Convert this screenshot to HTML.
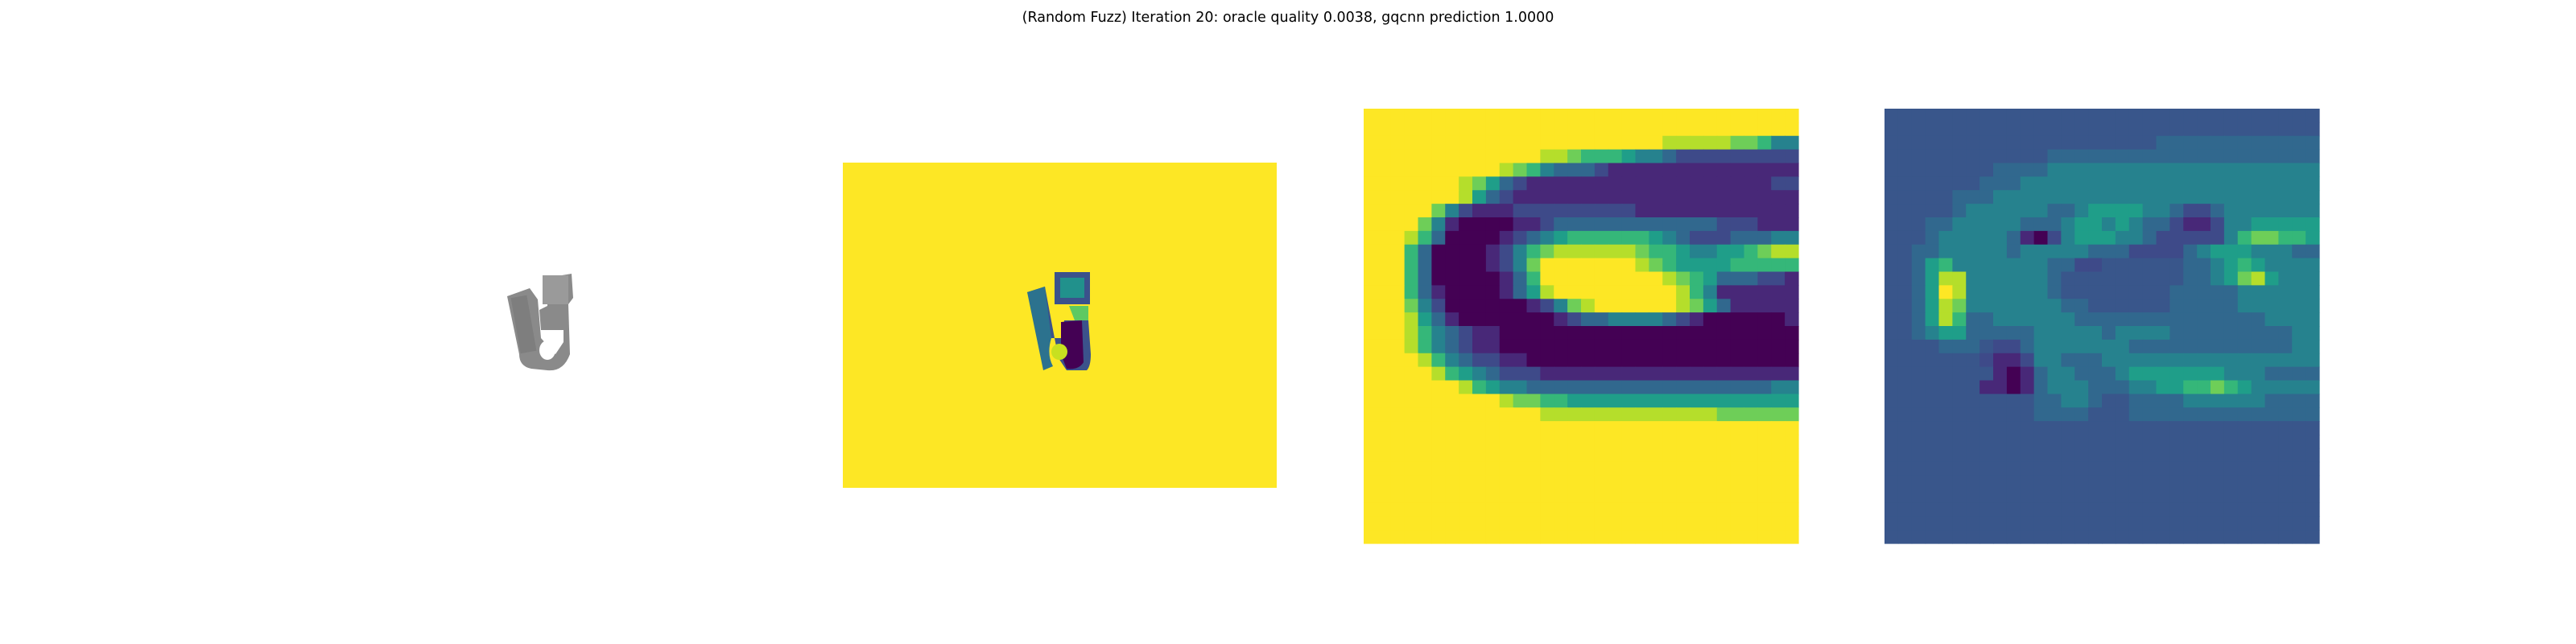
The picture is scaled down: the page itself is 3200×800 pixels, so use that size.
<!DOCTYPE html>
<html><head><meta charset="utf-8"><style>
html,body{margin:0;padding:0;background:#fff;width:3200px;height:800px;overflow:hidden}
#title{position:absolute;left:0;width:3200px;top:12px;text-align:center;font:17.5px "DejaVu Sans","Liberation Sans",sans-serif;color:#000}
svg{position:absolute;left:0;top:0}
</style></head><body>
<div id="title">(Random Fuzz) Iteration 20: oracle quality 0.0038, gqcnn prediction 1.0000</div>
<svg id="fig" width="3200" height="800">
 <g>
  <path d="M630,368 L658,358 L668,372 L672,420 L690,440 L700,425 L700,410 L672,410 L670,385 L680,380 L680,345 L710,340 L712,370 L706,378 L708,440 Q700,462 680,460 L660,458 Q645,455 645,440 Z" fill="#8a8a8a"/>
  <rect x="674" y="342" width="32" height="36" fill="#9a9a9a"/>
  <rect x="640" y="368" width="20" height="70" fill="#7e7e7e" transform="rotate(-10 650 400)"/>
  <ellipse cx="680" cy="435" rx="10" ry="12" fill="#fff"/>
 </g>
 <g>
  <rect x="1047" y="202" width="539" height="404" fill="#fde725"/>
  <path d="M1276,363 L1298,356 L1310,420 L1315,445 L1325,460 L1350,460 Q1355,455 1355,440 L1352,398 L1322,398 L1320,420 L1300,420 Z" fill="#3b528b"/>
  <path d="M1276,363 L1298,356 L1306,420 Q1300,440 1308,455 L1296,460 Z" fill="#2c728e"/>
  <path d="M1318,400 L1344,398 L1346,450 Q1340,460 1325,458 L1318,440 Z" fill="#440154"/>
  <circle cx="1316" cy="437" r="10" fill="#c8e020"/>
  <rect x="1310" y="338" width="44" height="40" fill="#3b528b"/>
  <rect x="1317" y="345" width="30" height="25" fill="#21918c"/>
  <path d="M1328,380 L1352,380 L1352,398 L1335,398 Z" fill="#5ec962"/>
 </g>
 <g id="hm1"></g>
 <g id="hm2"></g>
</svg>
<script>
const depthRows = [
"99999999999999999999999999999999","99999999999999999999999999999999",
"99999999999999999999998888877644","99999999999998876665443222222222",
"99999999998764333211111111111111","99999998753211111111111111111122",
"99999998532111111111111111111111","99999742111222222222111111111111",
"99997410000112333333333333222111","99986300001234566666654322233344",
"99963000012467888888766544556788","99963000012479999999876555566666",
"99963000001369999999998765333221","99963100001358999999999864111111",
"99974200000012478999999875311111","99985310000000123344443210000001",
"99986432110000000000000000000000","99986432110000000000000000000000",
"99998643221100000000000000000000","99999865432221111111111111111111",
"99999998654433333333333333333344","99999999998776655555555555555555",
"99999999999998888888888888777777","99999999999999999999999999999999",
"99999999999999999999999999999999","99999999999999999999999999999999",
"99999999999999999999999999999999","99999999999999999999999999999999",
"99999999999999999999999999999999","99999999999999999999999999999999",
"99999999999999999999999999999999","99999999999999999999999999999999"];
const gradRows = [
"bbbbbbbbbbbbbbbbbbbbbbbbbbbbbbbb","bbbbbbbbbbbbbbbbbbbbbbbbbbbbbbbb",
"bbbbbbbbbbbbbbbbbbbb333333333333","bbbbbbbbbbbb33333333333333333333",
"bbbbbbbb333344444444444444444444","bbbbbbb3334444444444444444444444",
"bbbbb333444444444444444444444444","bbbbb344444433455554432234444444",
"bbb33444443334554543321124455555","bbb34444431024555443222224677665",
"bb334444434444433322223455544433","bb35644444443322bbbbbb3345654444",
"bb35884444443bbbbbbbbb3345785444","bb35984444443bbbbbbbb33333444444",
"bb3587444444433bbbbbb33333444444","bb358633444444333333333333334444",
"bb345533333444443444433333333344","bbbb333b223444444433333333333344",
"bbbbbbb2112443334444444444444444","bbbbbbbb101344333455555554443333",
"bbbbbbb1101344433344556676544444","bbbbbbbbbbb33443bb33334444443333",
"bbbbbbbbbbb3333bbb33333333333333","bbbbbbbbbbbbbbbbbbbbbbbbbbbbbbbb",
"bbbbbbbbbbbbbbbbbbbbbbbbbbbbbbbb","bbbbbbbbbbbbbbbbbbbbbbbbbbbbbbbb",
"bbbbbbbbbbbbbbbbbbbbbbbbbbbbbbbb","bbbbbbbbbbbbbbbbbbbbbbbbbbbbbbbb",
"bbbbbbbbbbbbbbbbbbbbbbbbbbbbbbbb","bbbbbbbbbbbbbbbbbbbbbbbbbbbbbbbb",
"bbbbbbbbbbbbbbbbbbbbbbbbbbbbbbbb","bbbbbbbbbbbbbbbbbbbbbbbbbbbbbbbb"];
const V=[[68,1,84],[72,40,120],[62,74,137],[49,104,142],[38,130,142],[31,158,137],[53,183,121],[110,206,88],[181,222,43],[253,231,37]];
function vir(t){t=Math.max(0,Math.min(1,t))*9;const i=Math.min(8,Math.floor(t)),f=t-i;
 const c=V[i].map((v,k)=>Math.round(v+(V[i+1][k]-v)*f));return `rgb(${c[0]},${c[1]},${c[2]})`;}
function val(ch){return ch==='b'?2.4/9:parseInt(ch,10)/9;}
function draw(id,rows,x0,y0,size){
 const g=document.getElementById(id),n=32,cs=size/n,ns='http://www.w3.org/2000/svg';
 rows.forEach((row,r)=>{for(let c=0;c<n;c++){const ch=row[Math.min(c,row.length-1)];
  const el=document.createElementNS(ns,'rect');
  el.setAttribute('x',(x0+c*cs).toFixed(2));el.setAttribute('y',(y0+r*cs).toFixed(2));
  el.setAttribute('width',(cs+0.6).toFixed(2));el.setAttribute('height',(cs+0.6).toFixed(2));
  el.setAttribute('fill',vir(val(ch)));
  
  
  g.appendChild(el);}});
}
draw('hm1',depthRows,1694,135,540);
draw('hm2',gradRows,2341,135,540);
</script>
</body></html>
